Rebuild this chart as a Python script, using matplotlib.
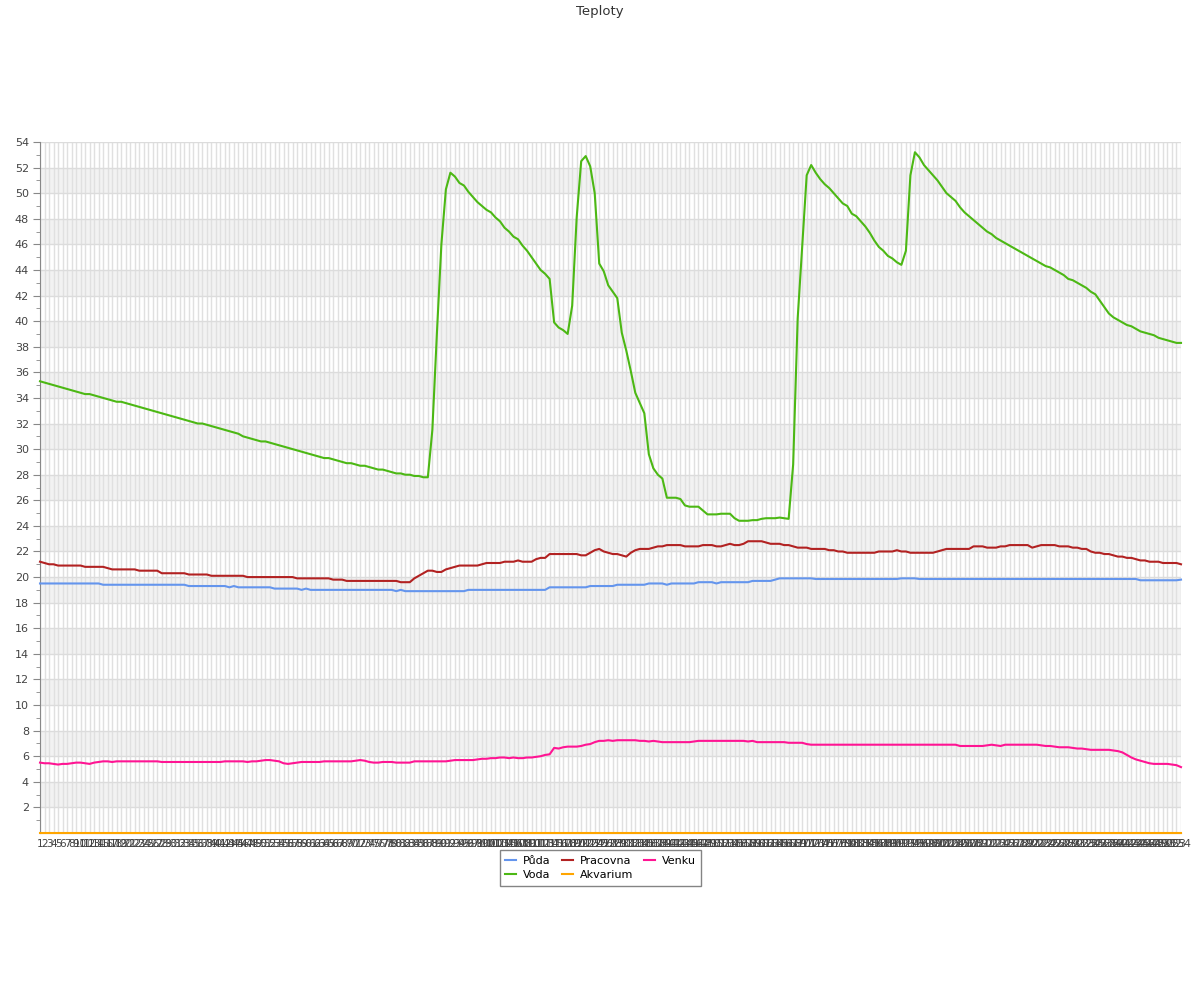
import matplotlib
matplotlib.use("Agg")
import matplotlib.pyplot as plt
import numpy as np


# data
kategorie = [str(i) for i in range(1, 255)]

puda = [
    19.5, 19.5, 19.5, 19.5, 19.5, 19.5, 19.5, 19.5, 19.5, 19.5,
    19.5, 19.5, 19.5, 19.5, 19.4, 19.4, 19.4, 19.4, 19.4, 19.4,
    19.4, 19.4, 19.4, 19.4, 19.4, 19.4, 19.4, 19.4, 19.4, 19.4,
    19.4, 19.4, 19.4, 19.3, 19.3, 19.3, 19.3, 19.3, 19.3, 19.3,
    19.3, 19.3, 19.2, 19.3, 19.2, 19.2, 19.2, 19.2, 19.2, 19.2,
    19.2, 19.2, 19.1, 19.1, 19.1, 19.1, 19.1, 19.1, 19.0, 19.1,
    19.0, 19.0, 19.0, 19.0, 19.0, 19.0, 19.0, 19.0, 19.0, 19.0,
    19.0, 19.0, 19.0, 19.0, 19.0, 19.0, 19.0, 19.0, 19.0, 18.9,
    19.0, 18.9, 18.9, 18.9, 18.9, 18.9, 18.9, 18.9, 18.9, 18.9,
    18.9, 18.9, 18.9, 18.9, 18.9, 19.0, 19.0, 19.0, 19.0, 19.0,
    19.0, 19.0, 19.0, 19.0, 19.0, 19.0, 19.0, 19.0, 19.0, 19.0,
    19.0, 19.0, 19.0, 19.2, 19.2, 19.2, 19.2, 19.2, 19.2, 19.2,
    19.2, 19.2, 19.3, 19.3, 19.3, 19.3, 19.3, 19.3, 19.4, 19.4,
    19.4, 19.4, 19.4, 19.4, 19.4, 19.5, 19.5, 19.5, 19.5, 19.4,
    19.5, 19.5, 19.5, 19.5, 19.5, 19.5, 19.6, 19.6, 19.6, 19.6,
    19.5, 19.6, 19.6, 19.6, 19.6, 19.6, 19.6, 19.6, 19.7, 19.7,
    19.7, 19.7, 19.7, 19.8, 19.9, 19.9, 19.9, 19.9, 19.9, 19.9,
    19.9, 19.9, 19.85, 19.85, 19.85, 19.85, 19.85, 19.85, 19.85, 19.85,
    19.85, 19.85, 19.85, 19.85, 19.85, 19.85, 19.85, 19.85, 19.85, 19.85,
    19.85, 19.9, 19.9, 19.9, 19.9, 19.85, 19.85, 19.85, 19.85, 19.85,
    19.85, 19.85, 19.85, 19.85, 19.85, 19.85, 19.85, 19.85, 19.85, 19.85,
    19.85, 19.85, 19.85, 19.85, 19.85, 19.85, 19.85, 19.85, 19.85, 19.85,
    19.85, 19.85, 19.85, 19.85, 19.85, 19.85, 19.85, 19.85, 19.85, 19.85,
    19.85, 19.85, 19.85, 19.85, 19.85, 19.85, 19.85, 19.85, 19.85, 19.85,
    19.85, 19.85, 19.85, 19.85, 19.75, 19.75, 19.75, 19.75, 19.75, 19.75,
    19.75, 19.75, 19.75, 19.8,
]

voda = [
    35.3, 35.2, 35.1, 35.0, 34.9, 34.8, 34.7, 34.6, 34.5, 34.4,
    34.3, 34.3, 34.2, 34.1, 34.0, 33.9, 33.8, 33.7, 33.7, 33.6,
    33.5, 33.4, 33.3, 33.2, 33.1, 33.0, 32.9, 32.8, 32.7, 32.6,
    32.5, 32.4, 32.3, 32.2, 32.1, 32.0, 32.0, 31.9, 31.8, 31.7,
    31.6, 31.5, 31.4, 31.3, 31.2, 31.0, 30.9, 30.8, 30.7, 30.6,
    30.6, 30.5, 30.4, 30.3, 30.2, 30.1, 30.0, 29.9, 29.8, 29.7,
    29.6, 29.5, 29.4, 29.3, 29.3, 29.2, 29.1, 29.0, 28.9, 28.9,
    28.8, 28.7, 28.7, 28.6, 28.5, 28.4, 28.4, 28.3, 28.2, 28.1,
    28.1, 28.0, 28.0, 27.9, 27.9, 27.8, 27.8, 31.5, 39.0, 46.0,
    50.3, 51.6, 51.3, 50.8, 50.6, 50.1, 49.7, 49.3, 49.0, 48.7,
    48.5, 48.1, 47.8, 47.3, 47.0, 46.6, 46.4, 45.9, 45.5, 45.0,
    44.5, 44.0, 43.7, 43.3, 39.9, 39.5, 39.3, 39.0, 41.2, 48.1,
    52.5, 52.9, 52.1, 50.0, 44.5, 43.9, 42.8, 42.3, 41.8, 39.1,
    37.7, 36.1, 34.4, 33.6, 32.8, 29.6, 28.5, 28.0, 27.7, 26.2,
    26.2, 26.2, 26.1, 25.6, 25.5, 25.5, 25.5, 25.2, 24.9, 24.9,
    24.9, 24.95, 24.95, 24.95, 24.6, 24.4, 24.4, 24.4, 24.45, 24.45,
    24.55, 24.6, 24.6, 24.6, 24.65, 24.6, 24.55, 28.8, 40.2, 45.8,
    51.4, 52.2, 51.6, 51.1, 50.7, 50.4, 50.0, 49.6, 49.2, 49.0,
    48.4, 48.2, 47.8, 47.4, 46.9, 46.3, 45.8, 45.5, 45.1, 44.9,
    44.6, 44.4, 45.5, 51.4, 53.2, 52.8, 52.2, 51.8, 51.4, 51.0,
    50.5, 50.0, 49.7, 49.4, 48.9, 48.5, 48.2, 47.9, 47.6, 47.3,
    47.0, 46.8, 46.5, 46.3, 46.1, 45.9, 45.7, 45.5, 45.3, 45.1,
    44.9, 44.7, 44.5, 44.3, 44.2, 44.0, 43.8, 43.6, 43.3, 43.2,
    43.0, 42.8, 42.6, 42.3, 42.1, 41.6, 41.1, 40.6, 40.3, 40.1,
    39.9, 39.7, 39.6, 39.4, 39.2, 39.1, 39.0, 38.9, 38.7, 38.6,
    38.5, 38.4, 38.3, 38.3,
]

pracovna = [
    21.2, 21.1, 21.0, 21.0, 20.9, 20.9, 20.9, 20.9, 20.9, 20.9,
    20.8, 20.8, 20.8, 20.8, 20.8, 20.7, 20.6, 20.6, 20.6, 20.6,
    20.6, 20.6, 20.5, 20.5, 20.5, 20.5, 20.5, 20.3, 20.3, 20.3,
    20.3, 20.3, 20.3, 20.2, 20.2, 20.2, 20.2, 20.2, 20.1, 20.1,
    20.1, 20.1, 20.1, 20.1, 20.1, 20.1, 20.0, 20.0, 20.0, 20.0,
    20.0, 20.0, 20.0, 20.0, 20.0, 20.0, 20.0, 19.9, 19.9, 19.9,
    19.9, 19.9, 19.9, 19.9, 19.9, 19.8, 19.8, 19.8, 19.7, 19.7,
    19.7, 19.7, 19.7, 19.7, 19.7, 19.7, 19.7, 19.7, 19.7, 19.7,
    19.6, 19.6, 19.6, 19.9, 20.1, 20.3, 20.5, 20.5, 20.4, 20.4,
    20.6, 20.7, 20.8, 20.9, 20.9, 20.9, 20.9, 20.9, 21.0, 21.1,
    21.1, 21.1, 21.1, 21.2, 21.2, 21.2, 21.3, 21.2, 21.2, 21.2,
    21.4, 21.5, 21.5, 21.8, 21.8, 21.8, 21.8, 21.8, 21.8, 21.8,
    21.7, 21.7, 21.9, 22.1, 22.2, 22.0, 21.9, 21.8, 21.8, 21.7,
    21.6, 21.9, 22.1, 22.2, 22.2, 22.2, 22.3, 22.4, 22.4, 22.5,
    22.5, 22.5, 22.5, 22.4, 22.4, 22.4, 22.4, 22.5, 22.5, 22.5,
    22.4, 22.4, 22.5, 22.6, 22.5, 22.5, 22.6, 22.8, 22.8, 22.8,
    22.8, 22.7, 22.6, 22.6, 22.6, 22.5, 22.5, 22.4, 22.3, 22.3,
    22.3, 22.2, 22.2, 22.2, 22.2, 22.1, 22.1, 22.0, 22.0, 21.9,
    21.9, 21.9, 21.9, 21.9, 21.9, 21.9, 22.0, 22.0, 22.0, 22.0,
    22.1, 22.0, 22.0, 21.9, 21.9, 21.9, 21.9, 21.9, 21.9, 22.0,
    22.1, 22.2, 22.2, 22.2, 22.2, 22.2, 22.2, 22.4, 22.4, 22.4,
    22.3, 22.3, 22.3, 22.4, 22.4, 22.5, 22.5, 22.5, 22.5, 22.5,
    22.3, 22.4, 22.5, 22.5, 22.5, 22.5, 22.4, 22.4, 22.4, 22.3,
    22.3, 22.2, 22.2, 22.0, 21.9, 21.9, 21.8, 21.8, 21.7, 21.6,
    21.6, 21.5, 21.5, 21.4, 21.3, 21.3, 21.2, 21.2, 21.2, 21.1,
    21.1, 21.1, 21.1, 21.0,
]

akvarium = [0.0] * len(kategorie)

venku = [
    5.5, 5.45, 5.45, 5.4, 5.35, 5.4, 5.4, 5.45, 5.5, 5.5,
    5.45, 5.4, 5.5, 5.55, 5.6, 5.6, 5.55, 5.6, 5.6, 5.6,
    5.6, 5.6, 5.6, 5.6, 5.6, 5.6, 5.6, 5.55, 5.55, 5.55,
    5.55, 5.55, 5.55, 5.55, 5.55, 5.55, 5.55, 5.55, 5.55, 5.55,
    5.55, 5.6, 5.6, 5.6, 5.6, 5.6, 5.55, 5.6, 5.6, 5.65,
    5.7, 5.7, 5.65, 5.6, 5.45, 5.4, 5.45, 5.5, 5.55, 5.55,
    5.55, 5.55, 5.55, 5.6, 5.6, 5.6, 5.6, 5.6, 5.6, 5.6,
    5.65, 5.7, 5.65, 5.55, 5.5, 5.5, 5.55, 5.55, 5.55, 5.5,
    5.5, 5.5, 5.5, 5.6, 5.6, 5.6, 5.6, 5.6, 5.6, 5.6,
    5.6, 5.65, 5.7, 5.7, 5.7, 5.7, 5.7, 5.75, 5.8, 5.8,
    5.85, 5.85, 5.9, 5.9, 5.85, 5.9, 5.85, 5.85, 5.9, 5.9,
    5.95, 6.0, 6.1, 6.15, 6.65, 6.6, 6.7, 6.75, 6.75, 6.75,
    6.8, 6.9, 6.95, 7.1, 7.2, 7.2, 7.25, 7.2, 7.25, 7.25,
    7.25, 7.25, 7.25, 7.2, 7.2, 7.15, 7.2, 7.15, 7.1, 7.1,
    7.1, 7.1, 7.1, 7.1, 7.1, 7.15, 7.2, 7.2, 7.2, 7.2,
    7.2, 7.2, 7.2, 7.2, 7.2, 7.2, 7.2, 7.15, 7.2, 7.1,
    7.1, 7.1, 7.1, 7.1, 7.1, 7.1, 7.05, 7.05, 7.05, 7.05,
    6.95, 6.9, 6.9, 6.9, 6.9, 6.9, 6.9, 6.9, 6.9, 6.9,
    6.9, 6.9, 6.9, 6.9, 6.9, 6.9, 6.9, 6.9, 6.9, 6.9,
    6.9, 6.9, 6.9, 6.9, 6.9, 6.9, 6.9, 6.9, 6.9, 6.9,
    6.9, 6.9, 6.9, 6.9, 6.8, 6.8, 6.8, 6.8, 6.8, 6.8,
    6.85, 6.9, 6.85, 6.8, 6.9, 6.9, 6.9, 6.9, 6.9, 6.9,
    6.9, 6.9, 6.85, 6.8, 6.8, 6.75, 6.7, 6.7, 6.7, 6.65,
    6.6, 6.6, 6.55, 6.5, 6.5, 6.5, 6.5, 6.5, 6.45, 6.4,
    6.3, 6.1, 5.9, 5.75, 5.65, 5.55, 5.45, 5.4, 5.4, 5.4,
    5.4, 5.35, 5.3, 5.15,
]

serie = [
    ("Půda", puda, "#6495ed"),
    ("Voda", voda, "#4cb814"),
    ("Pracovna", pracovna, "#b22222"),
    ("Akvarium", akvarium, "#ffa500"),
    ("Venku", venku, "#ff1493"),
]


# graf
fig = plt.figure(figsize=(12, 10), dpi=100)
ax = fig.add_axes([40 / 1200, 1 - 833 / 1000, 1141 / 1200, 691 / 1000])

x = np.arange(len(kategorie))

# pruhy v pozadí
for y0 in range(2, 54, 4):
    ax.axhspan(y0, y0 + 2, color="#f2f2f2", zorder=0, lw=0)

for xi in x:
    ax.axvline(xi, color="#e0e0e0", lw=1, zorder=1)
for yi in range(2, 55, 2):
    ax.axhline(yi, color="#dcdcdc", lw=1, zorder=1)

for name, vals, col in serie:
    ax.plot(x, vals, color=col, lw=1.5, label=name, zorder=3, clip_on=False)

ax.set_xlim(0, len(kategorie) - 1)
ax.set_ylim(0, 54)

ax.set_xticks(x)
ax.set_xticklabels(kategorie, fontsize=7.5, color="#444444")
ax.tick_params(axis="x", length=0, pad=4)

ax.set_yticks(range(2, 55, 2))
ax.set_yticklabels([str(v) for v in range(2, 55, 2)], fontsize=8, color="#444444")
ax.set_yticks(range(1, 54, 2), minor=True)
ax.tick_params(axis="y", which="major", length=5, color="#888888", pad=3)
ax.tick_params(axis="y", which="minor", length=3, color="#888888")

for s in ["top", "right"]:
    ax.spines[s].set_visible(False)
ax.spines["left"].set_color("#888888")
ax.spines["bottom"].set_color("#888888")

fig.text(0.5, 1 - 11 / 1000, "Teploty", ha="center", va="center", fontsize=9.5, color="#333333")

leg = fig.legend(loc="upper center", bbox_to_anchor=(0.5005, 0.150), ncol=3, fontsize=8,
                 frameon=True, fancybox=False, handlelength=1.0, handletextpad=0.6,
                 columnspacing=1.0, borderpad=0.5, labelspacing=0.4, borderaxespad=0)
leg.get_frame().set_edgecolor("#666666")
leg.get_frame().set_linewidth(1)

fig.savefig("out.png", dpi=100)
